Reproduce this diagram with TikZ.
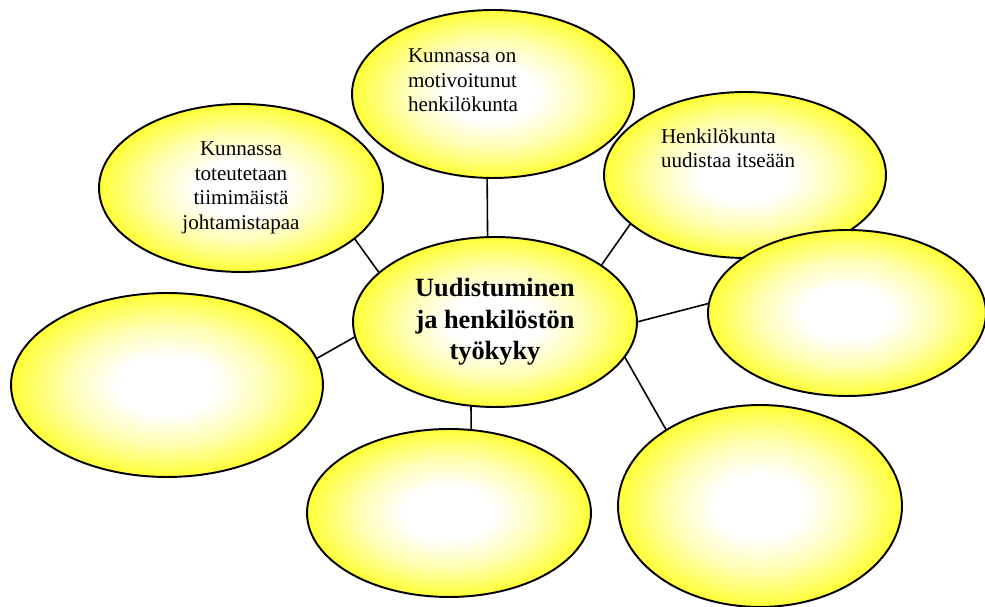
\documentclass[tikz,border=0pt]{standalone}
\usepackage{fontspec}
\setmainfont{Liberation Serif}
\usetikzlibrary{shapes.geometric,backgrounds}
% white centre fading out to a yellow rim
\pgfdeclareradialshading{sunglow}{\pgfpoint{0bp}{0bp}}{color(0bp)=(white); color(8bp)=(white); color(16bp)=(yellow!30!white); color(23bp)=(yellow!68!white); color(28.5bp)=(yellow); color(50bp)=(yellow)}

\begin{document}
\begin{tikzpicture}[x=0.02cm,y=-0.02cm,
  bubble/.style={ellipse, draw=black, line width=1.1pt, shade, shading=sunglow,
    inner sep=0pt, outer sep=0pt, align=center, font=\fontsize{12}{14}\selectfont},
  hub/.style={bubble, font=\fontsize{15}{18}\selectfont\bfseries},
  link/.style={draw=black, line width=0.9pt},
  note/.style={inner sep=0pt, outer sep=0pt, anchor=north west, align=left,
    font=\fontsize{12}{14}\selectfont}]
\useasboundingbox (0,0) rectangle (985,607);

% satellites and hub
\node[bubble, minimum width=5.64cm, minimum height=3.36cm] (top) at (493,94) {};
\node[bubble, minimum width=5.68cm, minimum height=3.36cm] (lead) at (241,188)
  {Kunnassa\\toteutetaan\\tiimimäistä\\johtamistapaa};
\node[bubble, minimum width=5.64cm, minimum height=3.32cm] (renew) at (745,175) {};
\node[hub, minimum width=5.68cm, minimum height=3.40cm] (hub) at (495,322)
  {Uudistuminen\\ja henkilöstön\\työkyky};
\node[bubble, minimum width=5.56cm, minimum height=3.32cm] (east) at (847,313) {};
\node[bubble, minimum width=6.24cm, minimum height=3.68cm] (west) at (167,385) {};
\node[bubble, minimum width=5.68cm, minimum height=3.36cm] (south) at (449,513) {};
\node[bubble, minimum width=5.68cm, minimum height=4.04cm] (southeast) at (760,506) {};

% texts set flush left inside two of the bubbles
\node[note] (toptext) at (408,49) {Kunnassa on\\motivoitunut\\henkilökunta};
\node[note] (renewtext) at (661,128.5) {Henkilökunta\\uudistaa itseään};

% spokes from the hub
\begin{pgfonlayer}{background}
\draw[link] (hub.95) -- (top.-94);
\draw[link] (hub.157) -- (lead.-24.5);
\draw[link] (hub.28.5) -- (renew.-157);
\draw[link] (hub.-0.4) -- (east.176);
\draw[link] (hub.186) -- (west.10);
\draw[link] (hub.-106) -- (south.75);
\draw[link] (hub.-15.7) -- (southeast.141);
\end{pgfonlayer}
\end{tikzpicture}
\end{document}
